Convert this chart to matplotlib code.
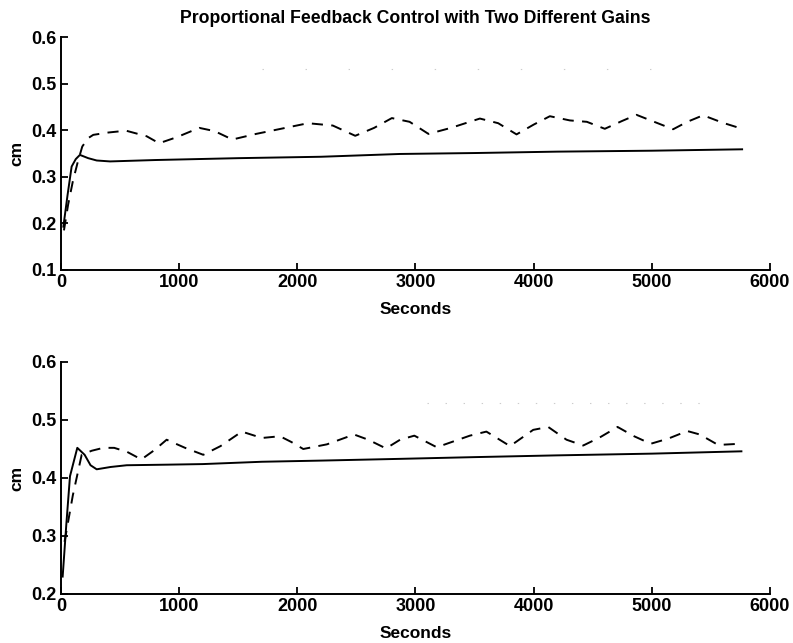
import matplotlib
matplotlib.use("Agg")
import matplotlib.pyplot as plt

plt.rcParams['font.family'] = ['Liberation Sans', 'DejaVu Sans']
plt.rcParams['lines.scale_dashes'] = False

title = "Proportional Feedback Control with Two Different Gains"
x_label = "Seconds"
y_label = "cm"
x_ticks = [0, 1000, 2000, 3000, 4000, 5000, 6000]
top_y_ticks = [0.1, 0.2, 0.3, 0.4, 0.5, 0.6]
bottom_y_ticks = [0.2, 0.3, 0.4, 0.5, 0.6]

# Upper panel: first gain
top_solid_t = [20, 55, 90, 125, 160, 230, 302, 415, 800, 1500, 2200, 2868, 3500, 4200, 5000, 5764]
top_solid_y = [0.193, 0.26, 0.322, 0.338, 0.347, 0.340, 0.335, 0.333, 0.336, 0.340, 0.343, 0.349, 0.351, 0.354, 0.356, 0.359]
top_dash_t = [25, 60, 100, 140, 180, 230, 273, 400, 550, 725, 830, 980, 1170, 1300, 1450, 1650, 1880,
              2090, 2300, 2490, 2650, 2800, 2950, 3110, 3300, 3545, 3700, 3855, 4000, 4137, 4306,
              4450, 4602, 4750, 4870, 5020, 5180, 5300, 5434, 5600, 5764]
top_dash_y = [0.185, 0.24, 0.29, 0.33, 0.365, 0.383, 0.390, 0.395, 0.399, 0.387, 0.372, 0.385, 0.405, 0.398, 0.380,
              0.392, 0.404, 0.415, 0.410, 0.388, 0.405, 0.426, 0.418, 0.392, 0.405, 0.425, 0.415, 0.391, 0.412,
              0.430, 0.421, 0.418, 0.403, 0.420, 0.433, 0.418, 0.402, 0.418, 0.432, 0.416, 0.403]

# Lower panel: second gain
bot_solid_t = [14, 45, 76, 110, 138, 200, 250, 302, 420, 556, 900, 1200, 1700, 2200, 2868, 3500, 4193, 5000, 5758]
bot_solid_y = [0.230, 0.32, 0.403, 0.430, 0.452, 0.440, 0.422, 0.415, 0.419, 0.422, 0.423, 0.424, 0.428, 0.430, 0.433, 0.436, 0.439, 0.442, 0.446]
bot_dash_t = [30, 100, 175, 260, 358, 450, 560, 680, 790, 894, 1050, 1204, 1350, 1530, 1700, 1853, 1950,
              2050, 2250, 2480, 2600, 2750, 2870, 2990, 3180, 3460, 3600, 3800, 3996, 4123, 4278,
              4419, 4560, 4710, 4850, 4990, 5140, 5300, 5406, 5561, 5744]
bot_dash_y = [0.29, 0.37, 0.440, 0.447, 0.452, 0.452, 0.445, 0.432, 0.448, 0.466, 0.452, 0.440, 0.455, 0.480, 0.469, 0.472, 0.462,
              0.450, 0.458, 0.475, 0.466, 0.451, 0.466, 0.473, 0.453, 0.473, 0.480, 0.455, 0.483, 0.488, 0.466,
              0.456, 0.470, 0.488, 0.472, 0.459, 0.468, 0.481, 0.475, 0.457, 0.459]

# Faint reference level
ref_t = [1700, 5000]
ref_y = [0.532, 0.532]
ref_t_bottom = [3100, 5450]
ref_y_bottom = [0.529, 0.529]

fig = plt.figure(figsize=(7.93, 6.43), dpi=100)
ax1 = fig.add_axes([61 / 793, 1 - 270 / 643, 709 / 793, 233 / 643])
ax2 = fig.add_axes([61 / 793, 1 - 594 / 643, 709 / 793, 232 / 643])

tick_font = dict(fontsize=13, fontweight='bold')


def style(ax, yticks):
    for s in ('top', 'right'):
        ax.spines[s].set_visible(False)
    for s in ('left', 'bottom'):
        ax.spines[s].set_linewidth(1.4)
    ax.set_xlim(x_ticks[0], x_ticks[-1])
    ax.set_ylim(yticks[0], yticks[-1])
    ax.set_xticks(x_ticks)
    ax.set_yticks(yticks)
    ax.set_xticklabels([str(v) for v in x_ticks], **tick_font)
    ax.set_yticklabels([f"{v:.1f}" for v in yticks], **tick_font)
    ax.tick_params(axis='x', direction='in', length=5, width=1.3, pad=3)
    ax.tick_params(axis='y', direction='in', length=5, width=1.3, pad=3)
    ax.set_xlabel(x_label, fontsize=12.5, fontweight='bold', labelpad=8)
    ax.set_ylabel(y_label, fontsize=12.5, fontweight='bold', labelpad=5)


line_kw = dict(color='black', linewidth=1.4)

ax1.plot(ref_t, ref_y, color='0.8', linewidth=0.8, linestyle=(0, (1, 30)))
ax1.plot(top_solid_t, top_solid_y, **line_kw)
ax1.plot(top_dash_t, top_dash_y, linestyle=(0, (8, 6)), **line_kw)
style(ax1, top_y_ticks)
ax1.set_title(title, fontsize=12.7, fontweight='bold', pad=10)

ax2.plot(ref_t_bottom, ref_y_bottom, color='0.8', linewidth=0.8, linestyle=(0, (1, 12)))
ax2.plot(bot_solid_t, bot_solid_y, **line_kw)
ax2.plot(bot_dash_t, bot_dash_y, linestyle=(0, (8, 6)), **line_kw)
style(ax2, bottom_y_ticks)

fig.savefig("out.png", dpi=100)
